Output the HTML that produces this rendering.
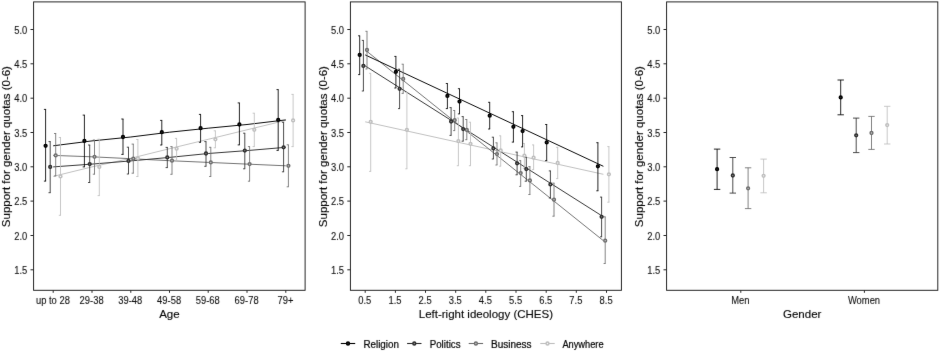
<!DOCTYPE html>
<html lang="en"><head><meta charset="utf-8"><title>Support for gender quotas</title>
<style>html,body{margin:0;padding:0;background:#fff}svg{display:block}</style></head>
<body>
<svg width="940" height="351" viewBox="0 0 940 351" font-family="'Liberation Sans', Arial, sans-serif"><style>text{stroke:#000;stroke-width:0.12px}text.t{stroke-width:0.1px}text.l{stroke-width:0.2px}</style>
<defs><filter id="soft" x="0" y="0" width="940" height="351" filterUnits="userSpaceOnUse" color-interpolation-filters="sRGB"><feConvolveMatrix order="3" kernelMatrix="0.008 0.062 0.008 0.062 0.72 0.062 0.008 0.062 0.008" divisor="1" edgeMode="none" preserveAlpha="false"/></filter><filter id="soft2" x="0" y="0" width="940" height="351" filterUnits="userSpaceOnUse" color-interpolation-filters="sRGB"><feConvolveMatrix order="3" kernelMatrix="0.004 0.04 0.004 0.04 0.824 0.04 0.004 0.04 0.004" divisor="1" edgeMode="none" preserveAlpha="false"/></filter></defs>
<g filter="url(#soft2)">
<rect width="940" height="351" fill="#fff"/>
<g><path d="M53.2 176.4 L92 166.9 L130.8 158.3 L169.5 148.7 L208.2 139.3 L247 129.8 L285.8 120.4" stroke="#bebebe" stroke-width="0.95" fill="none"/><path d="M53.2 155.4 L92 156.8 L130.8 158.7 L169.5 160.7 L208.2 162.4 L247 164.1 L285.8 165.8" stroke="#6e6e6e" stroke-width="0.95" fill="none"/><path d="M53.2 166.9 L92 164.1 L130.8 160.9 L169.5 157.4 L208.2 153.5 L247 150.6 L285.8 147.3" stroke="#2e2e2e" stroke-width="0.95" fill="none"/><path d="M53.2 145.8 L92 140.9 L130.8 137 L169.5 132.2 L208.2 128.2 L247 124.5 L285.8 119.9" stroke="#000000" stroke-width="0.95" fill="none"/><path d="M58.8 137.5H61M60.5 137.5V215.3M58.8 215.3H61" stroke="#bebebe" stroke-width="0.85" fill="none"/><path d="M97.6 139.2H99.8M99.3 139.2V195.6M97.6 195.6H99.8" stroke="#bebebe" stroke-width="0.85" fill="none"/><path d="M136.2 139.5H138.3M137.9 139.5V176.5M136.2 176.5H138.3" stroke="#bebebe" stroke-width="0.85" fill="none"/><path d="M174.9 138.4H177M176.6 138.4V160.3M174.9 160.3H177" stroke="#bebebe" stroke-width="0.85" fill="none"/><path d="M213.7 130.8H215.8M215.4 130.8V147.8M213.7 147.8H215.8" stroke="#bebebe" stroke-width="0.85" fill="none"/><path d="M252.6 113.2H254.8M254.3 113.2V146.6M252.6 146.6H254.8" stroke="#bebebe" stroke-width="0.85" fill="none"/><path d="M291.4 94.4H293.6M293.1 94.4V146.6M291.4 146.6H293.6" stroke="#bebebe" stroke-width="0.85" fill="none"/><path d="M54 133.5H56.2M55.7 133.5V176M54 176H56.2" stroke="#6e6e6e" stroke-width="0.85" fill="none"/><path d="M92.8 140H95M94.5 140V174.2M92.8 174.2H95" stroke="#6e6e6e" stroke-width="0.85" fill="none"/><path d="M131.6 144.1H133.8M133.3 144.1V173.2M131.6 173.2H133.8" stroke="#6e6e6e" stroke-width="0.85" fill="none"/><path d="M170.3 146.6H172.4M172 146.6V174.3M170.3 174.3H172.4" stroke="#6e6e6e" stroke-width="0.85" fill="none"/><path d="M209.1 147.3H211.2M210.8 147.3V176.5M209.1 176.5H211.2" stroke="#6e6e6e" stroke-width="0.85" fill="none"/><path d="M247.9 146.6H250M249.6 146.6V181.2M247.9 181.2H250" stroke="#6e6e6e" stroke-width="0.85" fill="none"/><path d="M286.7 144.8H288.8M288.4 144.8V186.8M286.7 186.8H288.8" stroke="#6e6e6e" stroke-width="0.85" fill="none"/><path d="M48.5 141.6H50.7M50.2 141.6V192.7M48.5 192.7H50.7" stroke="#2e2e2e" stroke-width="0.85" fill="none"/><path d="M88 145H90.2M89.7 145V182.5M88 182.5H90.2" stroke="#2e2e2e" stroke-width="0.85" fill="none"/><path d="M126.8 147.2H128.9M128.5 147.2V174M126.8 174H128.9" stroke="#2e2e2e" stroke-width="0.85" fill="none"/><path d="M165.6 147.4H167.8M167.3 147.4V167.6M165.6 167.6H167.8" stroke="#2e2e2e" stroke-width="0.85" fill="none"/><path d="M204.3 141.6H206.4M206 141.6V166.3M204.3 166.3H206.4" stroke="#2e2e2e" stroke-width="0.85" fill="none"/><path d="M243.1 133.2H245.2M244.8 133.2V168.8M243.1 168.8H245.2" stroke="#2e2e2e" stroke-width="0.85" fill="none"/><path d="M281.9 122.3H284.1M283.6 122.3V171.8M281.9 171.8H284.1" stroke="#2e2e2e" stroke-width="0.85" fill="none"/><path d="M43.9 109.4H46.1M45.6 109.4V181.1M43.9 181.1H46.1" stroke="#000000" stroke-width="0.85" fill="none"/><path d="M82.7 115.1H84.9M84.4 115.1V166.9M82.7 166.9H84.9" stroke="#000000" stroke-width="0.85" fill="none"/><path d="M121.3 119H123.5M123 119V154.4M121.3 154.4H123.5" stroke="#000000" stroke-width="0.85" fill="none"/><path d="M160.1 120.4H162.2M161.8 120.4V145M160.1 145H162.2" stroke="#000000" stroke-width="0.85" fill="none"/><path d="M198.9 114.4H201M200.6 114.4V142.3M198.9 142.3H201" stroke="#000000" stroke-width="0.85" fill="none"/><path d="M237.7 102.9H239.8M239.4 102.9V144.9M237.7 144.9H239.8" stroke="#000000" stroke-width="0.85" fill="none"/><path d="M276.5 89.6H278.6M278.2 89.6V150.4M276.5 150.4H278.6" stroke="#000000" stroke-width="0.85" fill="none"/><circle cx="60.5" cy="176.4" r="1.4" fill="#f6f6f6" stroke="#bebebe" stroke-width="1.5"/><circle cx="99.3" cy="166.9" r="1.4" fill="#f6f6f6" stroke="#bebebe" stroke-width="1.5"/><circle cx="137.9" cy="158.3" r="1.4" fill="#f6f6f6" stroke="#bebebe" stroke-width="1.5"/><circle cx="176.6" cy="148.7" r="1.4" fill="#f6f6f6" stroke="#bebebe" stroke-width="1.5"/><circle cx="215.4" cy="139.3" r="1.4" fill="#f6f6f6" stroke="#bebebe" stroke-width="1.5"/><circle cx="254.3" cy="129.8" r="1.4" fill="#f6f6f6" stroke="#bebebe" stroke-width="1.5"/><circle cx="293.1" cy="120.4" r="1.4" fill="#f6f6f6" stroke="#bebebe" stroke-width="1.5"/><circle cx="55.7" cy="155.4" r="1.4" fill="#d0d0d0" stroke="#6e6e6e" stroke-width="1.5"/><circle cx="94.5" cy="156.8" r="1.4" fill="#d0d0d0" stroke="#6e6e6e" stroke-width="1.5"/><circle cx="133.3" cy="158.7" r="1.4" fill="#d0d0d0" stroke="#6e6e6e" stroke-width="1.5"/><circle cx="172" cy="160.7" r="1.4" fill="#d0d0d0" stroke="#6e6e6e" stroke-width="1.5"/><circle cx="210.8" cy="162.4" r="1.4" fill="#d0d0d0" stroke="#6e6e6e" stroke-width="1.5"/><circle cx="249.6" cy="164.1" r="1.4" fill="#d0d0d0" stroke="#6e6e6e" stroke-width="1.5"/><circle cx="288.4" cy="165.8" r="1.4" fill="#d0d0d0" stroke="#6e6e6e" stroke-width="1.5"/><circle cx="50.2" cy="166.9" r="1.4" fill="#8a8a8a" stroke="#2e2e2e" stroke-width="1.5"/><circle cx="89.7" cy="164.1" r="1.4" fill="#8a8a8a" stroke="#2e2e2e" stroke-width="1.5"/><circle cx="128.5" cy="160.9" r="1.4" fill="#8a8a8a" stroke="#2e2e2e" stroke-width="1.5"/><circle cx="167.3" cy="157.4" r="1.4" fill="#8a8a8a" stroke="#2e2e2e" stroke-width="1.5"/><circle cx="206" cy="153.5" r="1.4" fill="#8a8a8a" stroke="#2e2e2e" stroke-width="1.5"/><circle cx="244.8" cy="150.6" r="1.4" fill="#8a8a8a" stroke="#2e2e2e" stroke-width="1.5"/><circle cx="283.6" cy="147.3" r="1.4" fill="#8a8a8a" stroke="#2e2e2e" stroke-width="1.5"/><circle cx="45.6" cy="145.8" r="1.4" fill="#2a2a2a" stroke="#000000" stroke-width="1.5"/><circle cx="84.4" cy="140.9" r="1.4" fill="#2a2a2a" stroke="#000000" stroke-width="1.5"/><circle cx="123" cy="137" r="1.4" fill="#2a2a2a" stroke="#000000" stroke-width="1.5"/><circle cx="161.8" cy="132.2" r="1.4" fill="#2a2a2a" stroke="#000000" stroke-width="1.5"/><circle cx="200.6" cy="128.2" r="1.4" fill="#2a2a2a" stroke="#000000" stroke-width="1.5"/><circle cx="239.4" cy="124.5" r="1.4" fill="#2a2a2a" stroke="#000000" stroke-width="1.5"/><circle cx="278.2" cy="119.9" r="1.4" fill="#2a2a2a" stroke="#000000" stroke-width="1.5"/></g>
<g><path d="M365.2 121.8L603.4 174.3" stroke="#bebebe" stroke-width="0.95" fill="none"/><path d="M365.2 50L603.4 240.7" stroke="#6e6e6e" stroke-width="0.95" fill="none"/><path d="M365.2 65.9L603.4 216.8" stroke="#2e2e2e" stroke-width="0.95" fill="none"/><path d="M365.2 54.9L603.4 166.3" stroke="#000000" stroke-width="0.95" fill="none"/><path d="M369.1 73.3H371.1M370.7 73.3V171.4M369.1 171.4H371.1" stroke="#bebebe" stroke-width="0.85" fill="none"/><path d="M405.3 92.5H407.3M406.9 92.5V168.8M405.3 168.8H407.3" stroke="#bebebe" stroke-width="0.85" fill="none"/><path d="M456.8 118H458.8M458.4 118V165.7M456.8 165.7H458.8" stroke="#bebebe" stroke-width="0.85" fill="none"/><path d="M468.9 122.2H470.9M470.5 122.2V165.7M468.9 165.7H470.9" stroke="#bebebe" stroke-width="0.85" fill="none"/><path d="M499.1 135.8H501.1M500.7 135.8V166.2M499.1 166.2H501.1" stroke="#bebebe" stroke-width="0.85" fill="none"/><path d="M522.8 143.5H524.9M524.4 143.5V168.3M522.8 168.3H524.9" stroke="#bebebe" stroke-width="0.85" fill="none"/><path d="M532 144.9H534.1M533.6 144.9V169.6M532 169.6H534.1" stroke="#bebebe" stroke-width="0.85" fill="none"/><path d="M556.1 147.3H558.2M557.7 147.3V178.6M556.1 178.6H558.2" stroke="#bebebe" stroke-width="0.85" fill="none"/><path d="M607.3 146.6H609.4M608.9 146.6V202.2M607.3 202.2H609.4" stroke="#bebebe" stroke-width="0.85" fill="none"/><path d="M365.4 31.3H367.4M367 31.3V69M365.4 69H367.4" stroke="#6e6e6e" stroke-width="0.85" fill="none"/><path d="M401.6 64.2H403.6M403.2 64.2V93.4M401.6 93.4H403.6" stroke="#6e6e6e" stroke-width="0.85" fill="none"/><path d="M453.1 110.5H455.1M454.7 110.5V130.6M453.1 130.6H455.1" stroke="#6e6e6e" stroke-width="0.85" fill="none"/><path d="M465.2 119.5H467.2M466.8 119.5V139.7M465.2 139.7H467.2" stroke="#6e6e6e" stroke-width="0.85" fill="none"/><path d="M495.4 142.8H497.4M497 142.8V165M495.4 165H497.4" stroke="#6e6e6e" stroke-width="0.85" fill="none"/><path d="M519.1 160.6H521.1M520.7 160.6V186.4M519.1 186.4H521.1" stroke="#6e6e6e" stroke-width="0.85" fill="none"/><path d="M528.3 166.6H530.4M529.9 166.6V194.5M528.3 194.5H530.4" stroke="#6e6e6e" stroke-width="0.85" fill="none"/><path d="M552.4 183.1H554.5M554 183.1V216.2M552.4 216.2H554.5" stroke="#6e6e6e" stroke-width="0.85" fill="none"/><path d="M603.6 216.8H605.6M605.2 216.8V263.5M603.6 263.5H605.6" stroke="#6e6e6e" stroke-width="0.85" fill="none"/><path d="M361.8 40.4H363.8M363.4 40.4V91M361.8 91H363.8" stroke="#2e2e2e" stroke-width="0.85" fill="none"/><path d="M398 69.2H400M399.6 69.2V108.6M398 108.6H400" stroke="#2e2e2e" stroke-width="0.85" fill="none"/><path d="M449.5 107.6H451.5M451.1 107.6V135.4M449.5 135.4H451.5" stroke="#2e2e2e" stroke-width="0.85" fill="none"/><path d="M461.6 116.6H463.6M463.2 116.6V141.2M461.6 141.2H463.6" stroke="#2e2e2e" stroke-width="0.85" fill="none"/><path d="M491.8 137.2H493.8M493.4 137.2V159M491.8 159H493.8" stroke="#2e2e2e" stroke-width="0.85" fill="none"/><path d="M515.5 152.1H517.6M517.1 152.1V174.8M515.5 174.8H517.6" stroke="#2e2e2e" stroke-width="0.85" fill="none"/><path d="M524.7 157.2H526.8M526.3 157.2V181.2M524.7 181.2H526.8" stroke="#2e2e2e" stroke-width="0.85" fill="none"/><path d="M548.8 170.9H550.9M550.4 170.9V198M548.8 198H550.9" stroke="#2e2e2e" stroke-width="0.85" fill="none"/><path d="M600 197.1H602.1M601.6 197.1V236.8M600 236.8H602.1" stroke="#2e2e2e" stroke-width="0.85" fill="none"/><path d="M358.1 35.8H360.1M359.7 35.8V74.6M358.1 74.6H360.1" stroke="#000000" stroke-width="0.85" fill="none"/><path d="M394.3 56.4H396.3M395.9 56.4V88M394.3 88H396.3" stroke="#000000" stroke-width="0.85" fill="none"/><path d="M445.8 83.5H447.8M447.4 83.5V108.6M445.8 108.6H447.8" stroke="#000000" stroke-width="0.85" fill="none"/><path d="M457.9 88.7H459.9M459.5 88.7V113.9M457.9 113.9H459.9" stroke="#000000" stroke-width="0.85" fill="none"/><path d="M488.1 102.3H490.1M489.7 102.3V129M488.1 129H490.1" stroke="#000000" stroke-width="0.85" fill="none"/><path d="M511.8 111.7H513.9M513.4 111.7V142.1M511.8 142.1H513.9" stroke="#000000" stroke-width="0.85" fill="none"/><path d="M521 115.6H523.1M522.6 115.6V146.9M521 146.9H523.1" stroke="#000000" stroke-width="0.85" fill="none"/><path d="M545.1 124.5H547.2M546.7 124.5V160.6M545.1 160.6H547.2" stroke="#000000" stroke-width="0.85" fill="none"/><path d="M596.3 142.7H598.4M597.9 142.7V190.8M596.3 190.8H598.4" stroke="#000000" stroke-width="0.85" fill="none"/><circle cx="370.7" cy="121.8" r="1.4" fill="#f6f6f6" stroke="#bebebe" stroke-width="1.5"/><circle cx="406.9" cy="129.8" r="1.4" fill="#f6f6f6" stroke="#bebebe" stroke-width="1.5"/><circle cx="458.4" cy="141.1" r="1.4" fill="#f6f6f6" stroke="#bebebe" stroke-width="1.5"/><circle cx="470.5" cy="143.8" r="1.4" fill="#f6f6f6" stroke="#bebebe" stroke-width="1.5"/><circle cx="500.7" cy="150.5" r="1.4" fill="#f6f6f6" stroke="#bebebe" stroke-width="1.5"/><circle cx="524.4" cy="155.7" r="1.4" fill="#f6f6f6" stroke="#bebebe" stroke-width="1.5"/><circle cx="533.6" cy="157.7" r="1.4" fill="#f6f6f6" stroke="#bebebe" stroke-width="1.5"/><circle cx="557.7" cy="163" r="1.4" fill="#f6f6f6" stroke="#bebebe" stroke-width="1.5"/><circle cx="608.9" cy="174.3" r="1.4" fill="#f6f6f6" stroke="#bebebe" stroke-width="1.5"/><circle cx="367" cy="50" r="1.4" fill="#d0d0d0" stroke="#6e6e6e" stroke-width="1.5"/><circle cx="403.2" cy="79" r="1.4" fill="#d0d0d0" stroke="#6e6e6e" stroke-width="1.5"/><circle cx="454.7" cy="120.2" r="1.4" fill="#d0d0d0" stroke="#6e6e6e" stroke-width="1.5"/><circle cx="466.8" cy="129.9" r="1.4" fill="#d0d0d0" stroke="#6e6e6e" stroke-width="1.5"/><circle cx="497" cy="154.1" r="1.4" fill="#d0d0d0" stroke="#6e6e6e" stroke-width="1.5"/><circle cx="520.7" cy="173.1" r="1.4" fill="#d0d0d0" stroke="#6e6e6e" stroke-width="1.5"/><circle cx="529.9" cy="180.4" r="1.4" fill="#d0d0d0" stroke="#6e6e6e" stroke-width="1.5"/><circle cx="554" cy="199.7" r="1.4" fill="#d0d0d0" stroke="#6e6e6e" stroke-width="1.5"/><circle cx="605.2" cy="240.7" r="1.4" fill="#d0d0d0" stroke="#6e6e6e" stroke-width="1.5"/><circle cx="363.4" cy="65.9" r="1.4" fill="#8a8a8a" stroke="#2e2e2e" stroke-width="1.5"/><circle cx="399.6" cy="88.8" r="1.4" fill="#8a8a8a" stroke="#2e2e2e" stroke-width="1.5"/><circle cx="451.1" cy="121.5" r="1.4" fill="#8a8a8a" stroke="#2e2e2e" stroke-width="1.5"/><circle cx="463.2" cy="129.1" r="1.4" fill="#8a8a8a" stroke="#2e2e2e" stroke-width="1.5"/><circle cx="493.4" cy="148.3" r="1.4" fill="#8a8a8a" stroke="#2e2e2e" stroke-width="1.5"/><circle cx="517.1" cy="163.3" r="1.4" fill="#8a8a8a" stroke="#2e2e2e" stroke-width="1.5"/><circle cx="526.3" cy="169.1" r="1.4" fill="#8a8a8a" stroke="#2e2e2e" stroke-width="1.5"/><circle cx="550.4" cy="184.4" r="1.4" fill="#8a8a8a" stroke="#2e2e2e" stroke-width="1.5"/><circle cx="601.6" cy="216.8" r="1.4" fill="#8a8a8a" stroke="#2e2e2e" stroke-width="1.5"/><circle cx="359.7" cy="54.9" r="1.4" fill="#2a2a2a" stroke="#000000" stroke-width="1.5"/><circle cx="395.9" cy="71.8" r="1.4" fill="#2a2a2a" stroke="#000000" stroke-width="1.5"/><circle cx="447.4" cy="95.9" r="1.4" fill="#2a2a2a" stroke="#000000" stroke-width="1.5"/><circle cx="459.5" cy="101.6" r="1.4" fill="#2a2a2a" stroke="#000000" stroke-width="1.5"/><circle cx="489.7" cy="115.7" r="1.4" fill="#2a2a2a" stroke="#000000" stroke-width="1.5"/><circle cx="513.4" cy="126.8" r="1.4" fill="#2a2a2a" stroke="#000000" stroke-width="1.5"/><circle cx="522.6" cy="131.1" r="1.4" fill="#2a2a2a" stroke="#000000" stroke-width="1.5"/><circle cx="546.7" cy="142.4" r="1.4" fill="#2a2a2a" stroke="#000000" stroke-width="1.5"/><circle cx="597.9" cy="166.3" r="1.4" fill="#2a2a2a" stroke="#000000" stroke-width="1.5"/></g>
<g><path d="M760.4 159.1H766.8M763.6 159.1V192.8M760.4 192.8H766.8" stroke="#bebebe" stroke-width="0.85" fill="none"/><circle cx="763.6" cy="175.8" r="1.4" fill="#f6f6f6" stroke="#bebebe" stroke-width="1.5"/><path d="M884 106.3H890.4M887.2 106.3V144M884 144H890.4" stroke="#bebebe" stroke-width="0.85" fill="none"/><circle cx="887.2" cy="125.1" r="1.4" fill="#f6f6f6" stroke="#bebebe" stroke-width="1.5"/><path d="M744.9 167.8H751.3M748.1 167.8V208.6M744.9 208.6H751.3" stroke="#6e6e6e" stroke-width="0.85" fill="none"/><circle cx="748.1" cy="188.3" r="1.4" fill="#d0d0d0" stroke="#6e6e6e" stroke-width="1.5"/><path d="M868.3 116.4H874.7M871.5 116.4V149.4M868.3 149.4H874.7" stroke="#6e6e6e" stroke-width="0.85" fill="none"/><circle cx="871.5" cy="133" r="1.4" fill="#d0d0d0" stroke="#6e6e6e" stroke-width="1.5"/><path d="M729.6 157.5H736M732.8 157.5V193.1M729.6 193.1H736" stroke="#2e2e2e" stroke-width="0.85" fill="none"/><circle cx="732.8" cy="175.5" r="1.4" fill="#8a8a8a" stroke="#2e2e2e" stroke-width="1.5"/><path d="M853 118.1H859.4M856.2 118.1V152.6M853 152.6H859.4" stroke="#2e2e2e" stroke-width="0.85" fill="none"/><circle cx="856.2" cy="135.3" r="1.4" fill="#8a8a8a" stroke="#2e2e2e" stroke-width="1.5"/><path d="M713.9 149.1H720.3M717.1 149.1V189.4M713.9 189.4H720.3" stroke="#000000" stroke-width="0.85" fill="none"/><circle cx="717.1" cy="169.2" r="1.4" fill="#2a2a2a" stroke="#000000" stroke-width="1.5"/><path d="M837.5 80H843.9M840.7 80V114.8M837.5 114.8H843.9" stroke="#000000" stroke-width="0.85" fill="none"/><circle cx="840.7" cy="97.4" r="1.4" fill="#2a2a2a" stroke="#000000" stroke-width="1.5"/></g>
<rect x="33.6" y="1.9" width="271.5" height="288.4" fill="none" stroke="#1c1c1c" stroke-width="0.95"/>
<path d="M30.5 269.8H33.6M30.5 235.5H33.6M30.5 201.1H33.6M30.5 166.8H33.6M30.5 132.5H33.6M30.5 98.2H33.6M30.5 63.8H33.6M30.5 29.5H33.6" stroke="#262626" stroke-width="1" fill="none"/>
<rect x="350.4" y="1.9" width="271" height="288.4" fill="none" stroke="#1c1c1c" stroke-width="0.95"/>
<path d="M347.3 269.8H350.4M347.3 235.5H350.4M347.3 201.1H350.4M347.3 166.8H350.4M347.3 132.5H350.4M347.3 98.2H350.4M347.3 63.8H350.4M347.3 29.5H350.4" stroke="#262626" stroke-width="1" fill="none"/>
<rect x="666.6" y="1.9" width="271.2" height="288.4" fill="none" stroke="#1c1c1c" stroke-width="0.95"/>
<path d="M663.5 269.8H666.6M663.5 235.5H666.6M663.5 201.1H666.6M663.5 166.8H666.6M663.5 132.5H666.6M663.5 98.2H666.6M663.5 63.8H666.6M663.5 29.5H666.6" stroke="#262626" stroke-width="1" fill="none"/>
<path d="M53.2 290.3V292.8M92 290.3V292.8M130.8 290.3V292.8M169.5 290.3V292.8M208.2 290.3V292.8M247 290.3V292.8M285.8 290.3V292.8" stroke="#262626" stroke-width="1" fill="none"/>
<path d="M365.2 290.3V292.8M395.4 290.3V292.8M425.5 290.3V292.8M455.7 290.3V292.8M485.8 290.3V292.8M516 290.3V292.8M546.2 290.3V292.8M576.3 290.3V292.8M606.5 290.3V292.8" stroke="#262626" stroke-width="1" fill="none"/>
<path d="M740.8 290.3V292.8M864.4 290.3V292.8" stroke="#262626" stroke-width="1" fill="none"/>
<path d="M340.8 343.5H355.2" stroke="#000000" stroke-width="1.1"/>
<circle cx="348" cy="343.5" r="1.45" fill="#2a2a2a" stroke="#000000" stroke-width="1.5"/>
<path d="M407.1 343.5H421.5" stroke="#2e2e2e" stroke-width="1.1"/>
<circle cx="414.3" cy="343.5" r="1.45" fill="#8a8a8a" stroke="#2e2e2e" stroke-width="1.5"/>
<path d="M468.7 343.5H483.1" stroke="#6e6e6e" stroke-width="1.1"/>
<circle cx="475.9" cy="343.5" r="1.45" fill="#d0d0d0" stroke="#6e6e6e" stroke-width="1.5"/>
<path d="M540.3 343.5H554.7" stroke="#bebebe" stroke-width="1.1"/>
<circle cx="547.5" cy="343.5" r="1.45" fill="#f6f6f6" stroke="#bebebe" stroke-width="1.5"/>
</g>
<g filter="url(#soft)">
<text class="t" transform="translate(27.3 274) scale(0.93 1)" font-size="10.1" text-anchor="end" fill="#111">1.5</text>
<text class="t" transform="translate(27.3 239.7) scale(0.93 1)" font-size="10.1" text-anchor="end" fill="#111">2.0</text>
<text class="t" transform="translate(27.3 205.3) scale(0.93 1)" font-size="10.1" text-anchor="end" fill="#111">2.5</text>
<text class="t" transform="translate(27.3 171) scale(0.93 1)" font-size="10.1" text-anchor="end" fill="#111">3.0</text>
<text class="t" transform="translate(27.3 136.7) scale(0.93 1)" font-size="10.1" text-anchor="end" fill="#111">3.5</text>
<text class="t" transform="translate(27.3 102.4) scale(0.93 1)" font-size="10.1" text-anchor="end" fill="#111">4.0</text>
<text class="t" transform="translate(27.3 68) scale(0.93 1)" font-size="10.1" text-anchor="end" fill="#111">4.5</text>
<text class="t" transform="translate(27.3 33.7) scale(0.93 1)" font-size="10.1" text-anchor="end" fill="#111">5.0</text>
<text transform="translate(10 146.6) rotate(-90)" font-size="11.5" text-anchor="middle" fill="#000">Support for gender quotas (0-6)</text>
<text class="t" transform="translate(344.1 274) scale(0.93 1)" font-size="10.1" text-anchor="end" fill="#111">1.5</text>
<text class="t" transform="translate(344.1 239.7) scale(0.93 1)" font-size="10.1" text-anchor="end" fill="#111">2.0</text>
<text class="t" transform="translate(344.1 205.3) scale(0.93 1)" font-size="10.1" text-anchor="end" fill="#111">2.5</text>
<text class="t" transform="translate(344.1 171) scale(0.93 1)" font-size="10.1" text-anchor="end" fill="#111">3.0</text>
<text class="t" transform="translate(344.1 136.7) scale(0.93 1)" font-size="10.1" text-anchor="end" fill="#111">3.5</text>
<text class="t" transform="translate(344.1 102.4) scale(0.93 1)" font-size="10.1" text-anchor="end" fill="#111">4.0</text>
<text class="t" transform="translate(344.1 68) scale(0.93 1)" font-size="10.1" text-anchor="end" fill="#111">4.5</text>
<text class="t" transform="translate(344.1 33.7) scale(0.93 1)" font-size="10.1" text-anchor="end" fill="#111">5.0</text>
<text transform="translate(326.8 146.6) rotate(-90)" font-size="11.5" text-anchor="middle" fill="#000">Support for gender quotas (0-6)</text>
<text class="t" transform="translate(660.3 274) scale(0.93 1)" font-size="10.1" text-anchor="end" fill="#111">1.5</text>
<text class="t" transform="translate(660.3 239.7) scale(0.93 1)" font-size="10.1" text-anchor="end" fill="#111">2.0</text>
<text class="t" transform="translate(660.3 205.3) scale(0.93 1)" font-size="10.1" text-anchor="end" fill="#111">2.5</text>
<text class="t" transform="translate(660.3 171) scale(0.93 1)" font-size="10.1" text-anchor="end" fill="#111">3.0</text>
<text class="t" transform="translate(660.3 136.7) scale(0.93 1)" font-size="10.1" text-anchor="end" fill="#111">3.5</text>
<text class="t" transform="translate(660.3 102.4) scale(0.93 1)" font-size="10.1" text-anchor="end" fill="#111">4.0</text>
<text class="t" transform="translate(660.3 68) scale(0.93 1)" font-size="10.1" text-anchor="end" fill="#111">4.5</text>
<text class="t" transform="translate(660.3 33.7) scale(0.93 1)" font-size="10.1" text-anchor="end" fill="#111">5.0</text>
<text transform="translate(643 146.6) rotate(-90)" font-size="11.5" text-anchor="middle" fill="#000">Support for gender quotas (0-6)</text>
<text class="t" transform="translate(52.9 303.5) scale(0.93 1)" font-size="10.1" text-anchor="middle" fill="#111">up to 28</text>
<text class="t" transform="translate(91.6 303.5) scale(0.93 1)" font-size="10.1" text-anchor="middle" fill="#111">29-38</text>
<text class="t" transform="translate(130.3 303.5) scale(0.93 1)" font-size="10.1" text-anchor="middle" fill="#111">39-48</text>
<text class="t" transform="translate(169.1 303.5) scale(0.93 1)" font-size="10.1" text-anchor="middle" fill="#111">49-58</text>
<text class="t" transform="translate(207.8 303.5) scale(0.93 1)" font-size="10.1" text-anchor="middle" fill="#111">59-68</text>
<text class="t" transform="translate(246.6 303.5) scale(0.93 1)" font-size="10.1" text-anchor="middle" fill="#111">69-78</text>
<text class="t" transform="translate(285.4 303.5) scale(0.93 1)" font-size="10.1" text-anchor="middle" fill="#111">79+</text>
<text class="t" transform="translate(364.8 303.5) scale(0.93 1)" font-size="10.1" text-anchor="middle" fill="#111">0.5</text>
<text class="t" transform="translate(395 303.5) scale(0.93 1)" font-size="10.1" text-anchor="middle" fill="#111">1.5</text>
<text class="t" transform="translate(425.1 303.5) scale(0.93 1)" font-size="10.1" text-anchor="middle" fill="#111">2.5</text>
<text class="t" transform="translate(455.3 303.5) scale(0.93 1)" font-size="10.1" text-anchor="middle" fill="#111">3.5</text>
<text class="t" transform="translate(485.4 303.5) scale(0.93 1)" font-size="10.1" text-anchor="middle" fill="#111">4.5</text>
<text class="t" transform="translate(515.6 303.5) scale(0.93 1)" font-size="10.1" text-anchor="middle" fill="#111">5.5</text>
<text class="t" transform="translate(545.8 303.5) scale(0.93 1)" font-size="10.1" text-anchor="middle" fill="#111">6.5</text>
<text class="t" transform="translate(575.9 303.5) scale(0.93 1)" font-size="10.1" text-anchor="middle" fill="#111">7.5</text>
<text class="t" transform="translate(606.1 303.5) scale(0.93 1)" font-size="10.1" text-anchor="middle" fill="#111">8.5</text>
<text class="t" transform="translate(740.4 303.5) scale(0.93 1)" font-size="10.1" text-anchor="middle" fill="#111">Men</text>
<text class="t" transform="translate(864 303.5) scale(0.93 1)" font-size="10.1" text-anchor="middle" fill="#111">Women</text>
<text x="169.4" y="317.8" font-size="11.5" text-anchor="middle" fill="#000">Age</text>
<text x="485.9" y="317.8" font-size="11.5" text-anchor="middle" fill="#000">Left-right ideology (CHES)</text>
<text x="802.2" y="317.8" font-size="11.5" text-anchor="middle" fill="#000">Gender</text>
<text class="l" x="363.4" y="348.2" font-size="10" fill="#000" textLength="35.6" lengthAdjust="spacingAndGlyphs">Religion</text>
<text class="l" x="429.7" y="348.2" font-size="10" fill="#000" textLength="30.9" lengthAdjust="spacingAndGlyphs">Politics</text>
<text class="l" x="491" y="348.2" font-size="10" fill="#000" textLength="40.6" lengthAdjust="spacingAndGlyphs">Business</text>
<text class="l" x="562.4" y="348.2" font-size="10" fill="#000" textLength="41.2" lengthAdjust="spacingAndGlyphs">Anywhere</text>
</g>
</svg>
</body></html>
